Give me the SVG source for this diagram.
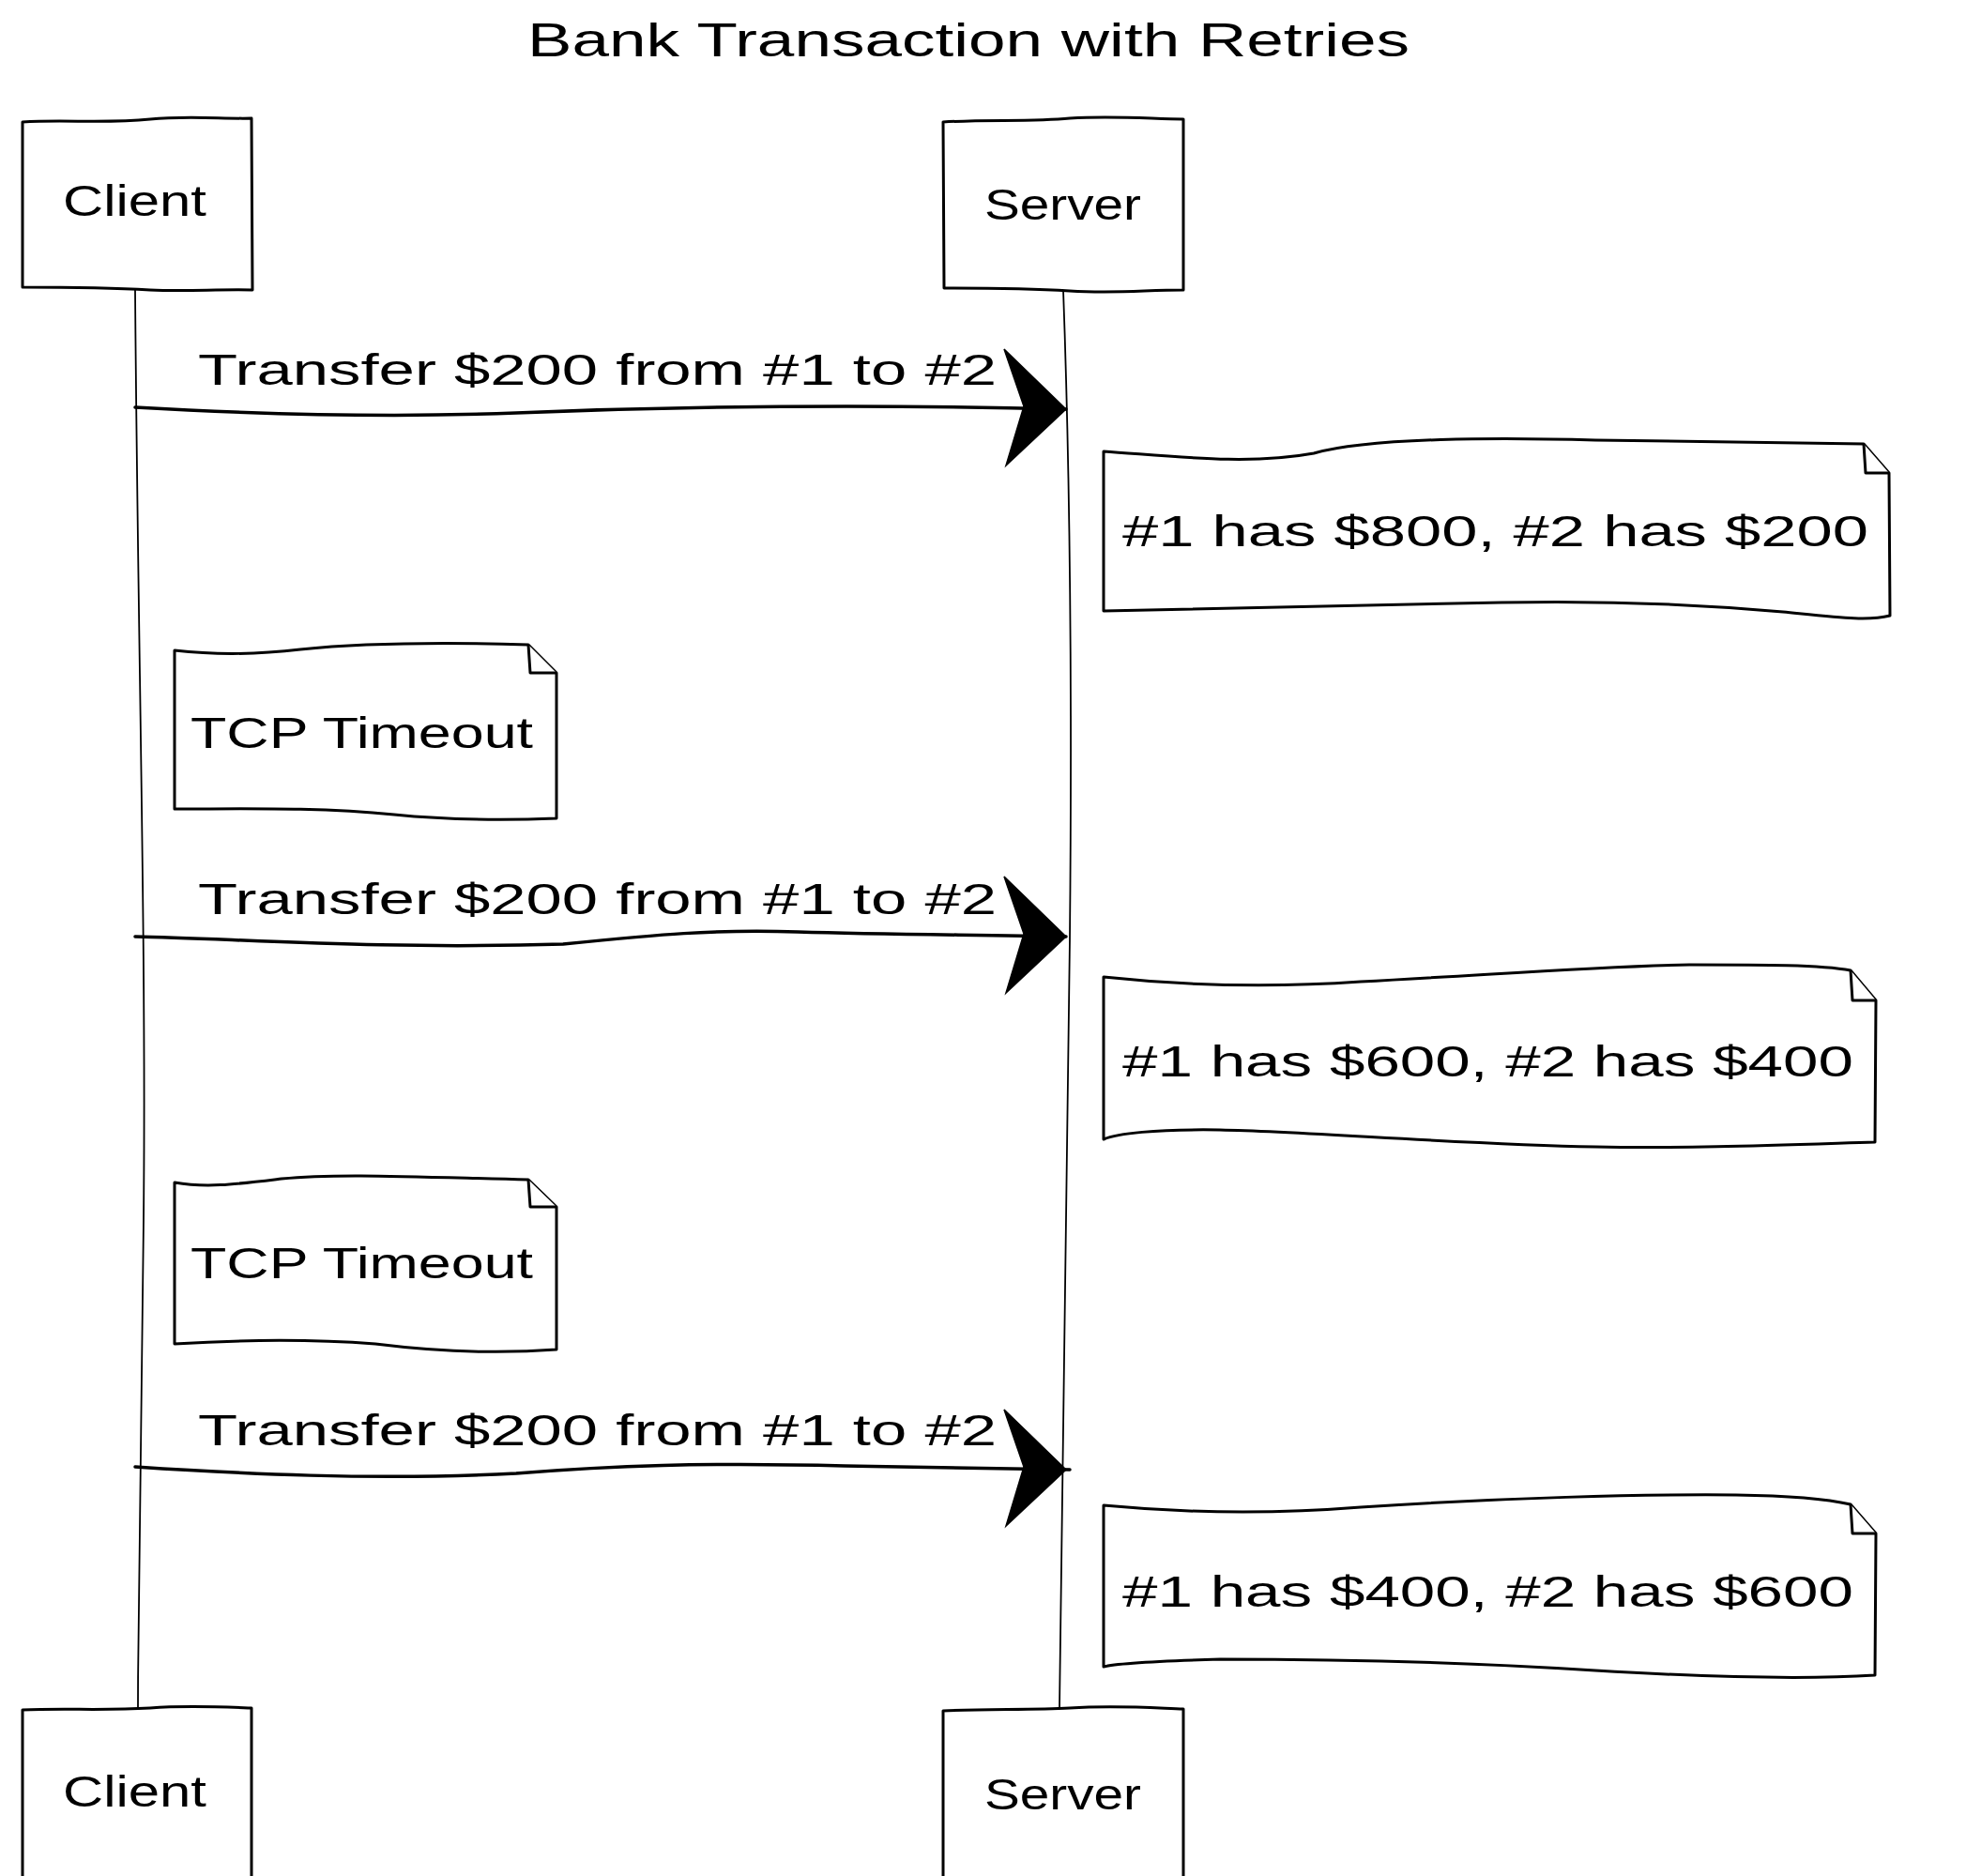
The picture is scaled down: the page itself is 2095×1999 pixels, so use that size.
<svg xmlns="http://www.w3.org/2000/svg" width="2095" height="1999" viewBox="0 0 2095 1999">
<style>
.bg{fill:#ffffff}
.box{fill:#ffffff;stroke:#000000;stroke-width:3;stroke-linejoin:round}
.life{fill:none;stroke:#000000;stroke-width:1.8}
.msg{fill:none;stroke:#000000;stroke-width:3.5;stroke-linecap:round}
.head{fill:#000000;stroke:#000000;stroke-width:1.5;stroke-linejoin:miter}
.t{font-family:"Liberation Sans",Arial,sans-serif;fill:#000000}
.title{font-size:50px}
.lbl{font-size:46px}
</style>
<defs>
<path id="arrowhead" d="M0,0 L-66,-64 L-45,-3 L-64,60 Z"/>
</defs>
<rect class="bg" x="0" y="0" width="2095" height="1999"/>

<g id="title">
<text class="t title" x="562" y="60" textLength="940" lengthAdjust="spacingAndGlyphs">Bank Transaction with Retries</text>
</g>

<g id="lifelines">
<path class="life" d="M144,309 C147,700 156,1000 153,1300 C151,1600 147,1700 147,1820"/>
<path class="life" d="M1133,309 C1140,500 1143,700 1140,1000 C1137,1300 1130,1600 1129,1820"/>
</g>

<g id="client-top">
<path class="box" d="M24,130 C70,127 110,132 160,127 C200,123 240,127 268,126 L269,309 C230,308 200,311 160,309 C110,306 60,306 24,306 Z"/>
<text class="t lbl" x="67" y="230" textLength="153" lengthAdjust="spacingAndGlyphs">Client</text>
</g>
<g id="server-top">
<path class="box" d="M1005,130 C1050,127 1100,130 1140,126 C1190,123 1230,127 1261,127 L1261,309 C1220,309 1190,313 1140,310 C1090,307 1040,307 1006,307 Z"/>
<text class="t lbl" x="1049" y="234" textLength="167" lengthAdjust="spacingAndGlyphs">Server</text>
</g>

<g id="connectors">
<path class="msg" d="M144,434 C250,440 400,446 550,440 C700,434 900,430 1136,436"/>
<use href="#arrowhead" class="head" transform="translate(1136,436)"/>
<path class="msg" d="M144,998 C250,1000 400,1012 600,1006 C700,996 760,990 850,993 C950,996 1050,996 1136,998"/>
<use href="#arrowhead" class="head" transform="translate(1136,998)"/>
<path class="msg" d="M144,1563 C250,1570 400,1578 550,1570 C650,1562 750,1558 900,1562 C1000,1564 1080,1565 1140,1566"/>
<use href="#arrowhead" class="head" transform="translate(1136,1566)"/>
</g>

<g id="msg1-label">
<text class="t lbl" x="211" y="410" textLength="851" lengthAdjust="spacingAndGlyphs">Transfer $200 from #1 to #2</text>
</g>
<g id="msg2-label">
<text class="t lbl" x="211" y="974" textLength="851" lengthAdjust="spacingAndGlyphs">Transfer $200 from #1 to #2</text>
</g>
<g id="msg3-label">
<text class="t lbl" x="211" y="1540" textLength="851" lengthAdjust="spacingAndGlyphs">Transfer $200 from #1 to #2</text>
</g>

<g id="note1">
<path class="box" d="M1176,481 C1250,486 1330,496 1400,483 C1460,466 1600,466 1700,469 C1800,471 1900,472 1986,473 L2013,504 L2014,656 C1990,662 1960,658 1900,652 C1800,643 1700,640 1600,642 C1450,646 1300,648 1176,651 Z"/>
<path class="box" d="M1986,473 L1988,504 L2013,504"/>
<text class="t lbl" x="1196" y="582" textLength="795" lengthAdjust="spacingAndGlyphs">#1 has $800, #2 has $200</text>
</g>

<g id="timeout1">
<path class="box" d="M186,693 C230,698 270,698 320,692 C380,686 460,684 563,687 L593,717 L593,872 C540,874 480,874 420,868 C340,860 260,862 186,862 Z"/>
<path class="box" d="M563,687 L565,717 L593,717"/>
<text class="t lbl" x="203" y="797" textLength="365" lengthAdjust="spacingAndGlyphs">TCP Timeout</text>
</g>

<g id="note2">
<path class="box" d="M1176,1041 C1260,1050 1350,1053 1450,1046 C1600,1038 1700,1030 1800,1028 C1880,1028 1940,1028 1972,1034 L1999,1066 L1998,1217 C1900,1220 1800,1224 1700,1222 C1550,1219 1400,1206 1300,1204 C1230,1203 1190,1208 1176,1214 Z"/>
<path class="box" d="M1972,1034 L1974,1066 L1999,1066"/>
<text class="t lbl" x="1196" y="1147" textLength="779" lengthAdjust="spacingAndGlyphs">#1 has $600, #2 has $400</text>
</g>

<g id="timeout2">
<path class="box" d="M186,1260 C220,1266 250,1262 300,1256 C360,1250 440,1254 563,1257 L593,1286 L593,1438 C540,1442 480,1442 400,1432 C320,1426 250,1428 186,1432 Z"/>
<path class="box" d="M563,1257 L565,1286 L593,1286"/>
<text class="t lbl" x="203" y="1362" textLength="365" lengthAdjust="spacingAndGlyphs">TCP Timeout</text>
</g>

<g id="note3">
<path class="box" d="M1176,1604 C1260,1612 1350,1614 1450,1606 C1600,1596 1750,1592 1850,1593 C1920,1594 1950,1598 1972,1603 L1999,1634 L1998,1785 C1920,1790 1800,1786 1700,1780 C1550,1770 1400,1768 1300,1768 C1230,1770 1190,1772 1176,1776 Z"/>
<path class="box" d="M1972,1603 L1974,1634 L1999,1634"/>
<text class="t lbl" x="1196" y="1712" textLength="779" lengthAdjust="spacingAndGlyphs">#1 has $400, #2 has $600</text>
</g>

<g id="client-bottom">
<path class="box" d="M24,1822 C70,1820 110,1823 160,1820 C200,1817 240,1819 268,1820 L268,2010 L24,2010 Z"/>
<text class="t lbl" x="67" y="1925" textLength="153" lengthAdjust="spacingAndGlyphs">Client</text>
</g>
<g id="server-bottom">
<path class="box" d="M1005,1823 C1050,1821 1100,1822 1140,1820 C1190,1817 1230,1820 1261,1821 L1261,2010 L1005,2010 Z"/>
<text class="t lbl" x="1049" y="1928" textLength="167" lengthAdjust="spacingAndGlyphs">Server</text>
</g>
</svg>
